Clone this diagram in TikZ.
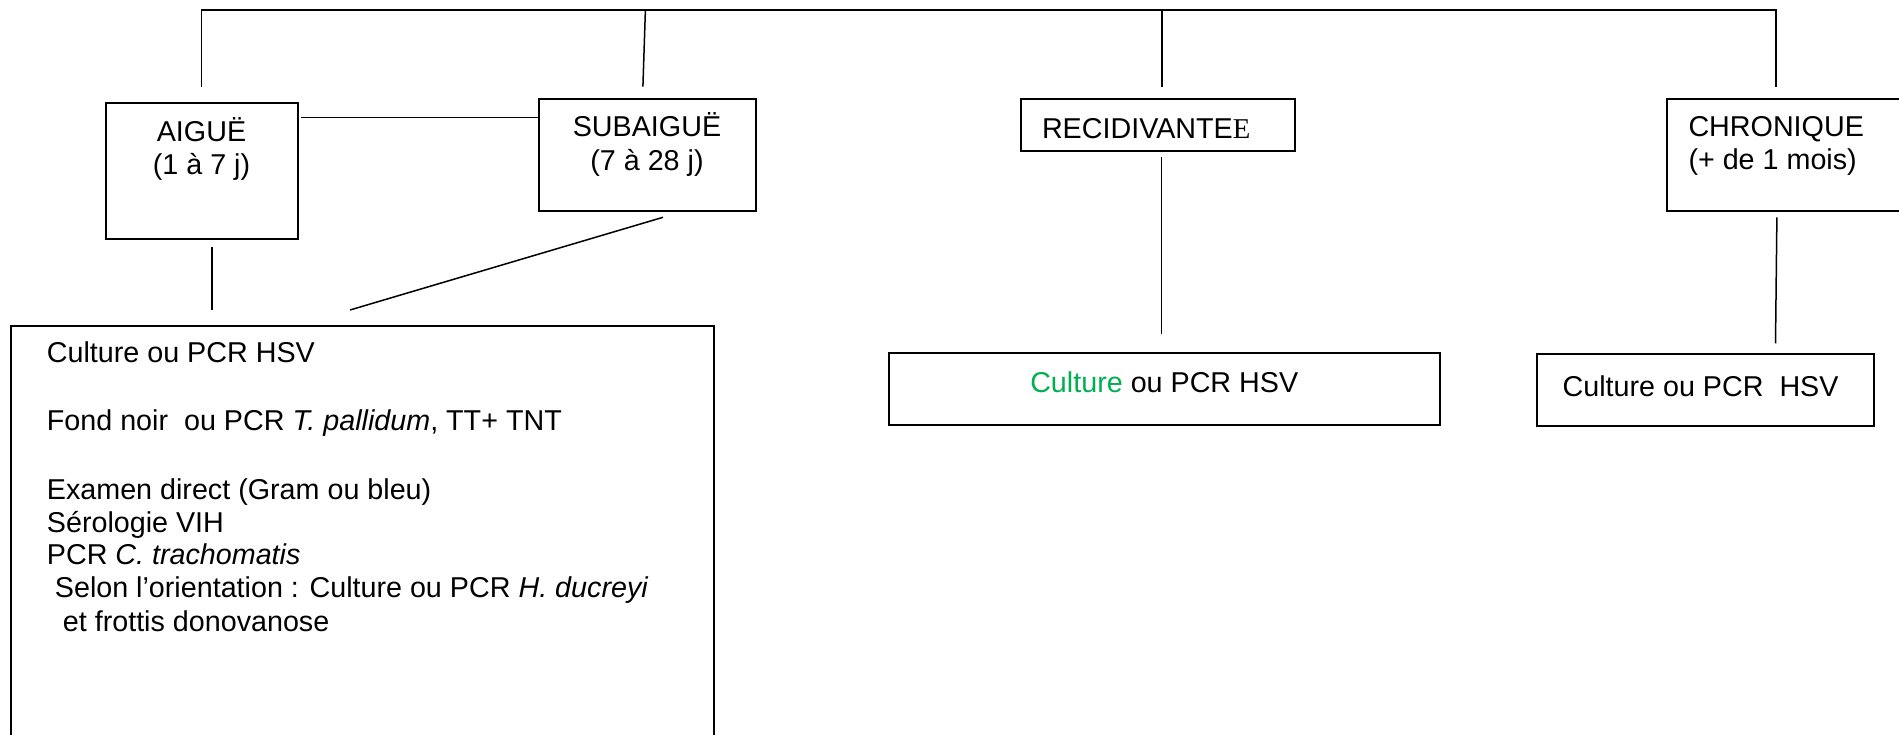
\documentclass[tikz,border=0pt]{standalone}
\usepackage{fontspec}
\setmainfont{Liberation Sans}
\newfontfamily\serifE{Liberation Serif}
\definecolor{wordgreen}{RGB}{0,176,80}
\begin{document}
\begin{tikzpicture}[x=1pt,y=-1pt,
  box/.style={draw,line width=2pt,inner sep=0pt,rectangle},
  conn/.style={line width=1.5pt},
  txt/.style={inner sep=0pt,font=\fontsize{28.7}{33.4}\selectfont},
]
\clip (0,0) rectangle (1899,734);

% boxes
\node[box,minimum width=192.4pt,minimum height=136pt] (aigue) at (201.8,170.7) {};
\node[box,minimum width=217pt,minimum height=111.7pt] (subaigue) at (647.5,154.85) {};
\node[box,minimum width=274pt,minimum height=52pt] (recid) at (1158.4,125) {};
\node[box,minimum width=243.2pt,minimum height=111.7pt] (chron) at (1788.4,154.85) {};
\node[box,minimum width=703.5pt,minimum height=434.5pt] (bigbox) at (362.25,542.75) {};
\node[box,minimum width=550.5pt,minimum height=71.7pt] (recidres) at (1164.25,389.15) {};
\node[box,minimum width=336.6pt,minimum height=71.7pt] (chronres) at (1705.3,389.85) {};

% texts
\node[txt,anchor=base] (taigue1) at (201.5,141.7) {AIGUË};
\node[txt,anchor=base] (taigue2) at (201.5,174.5) {(1 à 7 j)};
\node[txt,anchor=base] (tsub1) at (647,136.7) {SUBAIGUË};
\node[txt,anchor=base] (tsub2) at (647,170) {(7 à 28 j)};
\node[txt,anchor=base west] (trecid) at (1041.8,138.3) {RECIDIVANTE{\serifE E}};
\node[txt,anchor=base west] (tchron1) at (1688.3,136.7) {CHRONIQUE};
\node[txt,anchor=base west] (tchron2) at (1688.3,169.7) {(+ de 1 mois)};

\node[txt,anchor=base west] (l1) at (46.7,362.3) {Culture ou PCR HSV};
\node[txt,anchor=base west] (l2) at (46.7,430.5) {Fond noir~ ou PCR \textit{T. pallidum}, TT+ TNT};
\node[txt,anchor=base west] (l3) at (46.7,499.5) {Examen direct (Gram ou bleu)};
\node[txt,anchor=base west] (l4) at (46.7,532.5) {Sérologie VIH};
\node[txt,anchor=base west] (l5) at (46.7,564.5) {PCR \textit{C. trachomatis}};
\node[txt,anchor=base west] (l6) at (54.7,597) {Selon l’orientation : Culture ou PCR \textit{H. ducreyi}};
\node[txt,anchor=base west] (l7) at (62.7,631) {et frottis donovanose};

\node[txt,anchor=base] (trr) at (1164.25,392.3) {\textcolor{wordgreen}{Culture} ou PCR HSV};
\node[txt,anchor=base west] (tcr) at (1562.4,396) {Culture ou PCR~ HSV};

% connector coordinates
\coordinate (a0) at (201.5,10);
\coordinate (a1) at (201.5,86.7);
\coordinate (d0) at (1776,10);
\coordinate (d1) at (1776,86.7);
\coordinate (b0) at (645.4,10);
\coordinate (b1) at (642.9,86.7);
\coordinate (c0) at (1162,10);
\coordinate (c1) at (1162,86.7);
\coordinate (h0) at (301,117.3);
\coordinate (h1) at (539,117.3);
\coordinate (v0) at (212,247);
\coordinate (v1) at (212,310);
\coordinate (s0) at (663,217.3);
\coordinate (s1) at (350,310);
\coordinate (r0) at (1161.6,157.3);
\coordinate (r1) at (1161.6,334.3);
\coordinate (k0) at (1776.9,217.3);
\coordinate (k1) at (1775.5,343.3);

% connectors
\draw[conn] (a1) -- (a0) -- (d0) -- (d1);
\draw[conn] (b0) -- (b1);
\draw[conn] (c0) -- (c1);
\draw[conn] (h0) -- (h1);
\draw[conn] (v0) -- (v1);
\draw[conn] (s0) -- (s1);
\draw[conn] (r0) -- (r1);
\draw[conn] (k0) -- (k1);
\end{tikzpicture}
\end{document}
